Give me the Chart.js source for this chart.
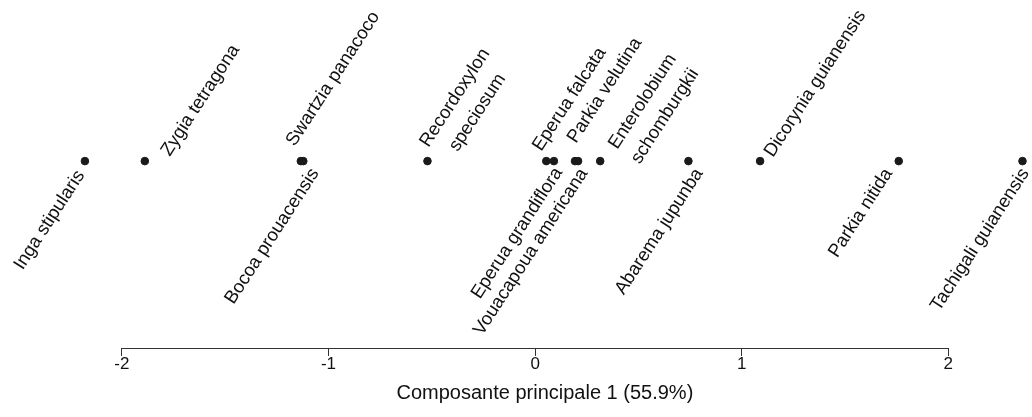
<!DOCTYPE html>
<html lang="fr">
<head>
    <meta charset="UTF-8">
    <title>Composante principale 1</title>
    <script src="https://cdn.jsdelivr.net/npm/chart.js"></script>
    <style>
        body {
            margin: 0;
            background-color: white;
        }
        .chart-box {
            position: relative;
            width: 1032px;
            height: 417px;
        }
    </style>
</head>
<body>
    <div class="chart-box">
        <canvas id="pcaChart"></canvas>
    </div>

    <script>
        // Species and their score on the first principal component
        const species = [
            'Inga stipularis', 'Zygia tetragona', 'Swartzia panacoco', 'Bocoa prouacensis',
            'Recordoxylon\nspeciosum', 'Eperua falcata', 'Eperua grandiflora', 'Parkia velutina',
            'Vouacapoua americana', 'Enterolobium\nschomburgkii', 'Abarema jupunba',
            'Dicorynia guianensis', 'Parkia nitida', 'Tachigali guianensis'
        ];
        const pc1Scores = [
            -2.179, -1.889, -1.134, -1.122,
            -0.521, 0.054, 0.091, 0.193,
            0.208, 0.315, 0.742,
            1.089, 1.760, 2.359
        ];
        const tickValues = [-2, -1, 0, 1, 2];
        const axisTitle = 'Composante principale 1 (55.9%)';

        // Where each label sits relative to its point (pixels)
        const labelPlacement = [
            { side: 'below', dx: 0, dy: 14 },
            { side: 'above', dx: 25, dy: -4 },
            { side: 'above', dx: -6, dy: -14 },
            { side: 'below', dx: 16, dy: 12 },
            { side: 'above', dx: 1, dy: -13 },
            { side: 'above', dx: -5, dy: -9 },
            { side: 'below', dx: 9, dy: 11 },
            { side: 'above', dx: 1, dy: -17 },
            { side: 'below', dx: 10, dy: 12 },
            { side: 'above', dx: 17, dy: -11 },
            { side: 'below', dx: 15, dy: 12 },
            { side: 'above', dx: 13, dy: -3 },
            { side: 'below', dx: -6, dy: 12 },
            { side: 'below', dx: 7, dy: 12 }
        ];

        const fontFamily = "'Liberation Sans', Arial, Helvetica, sans-serif";
        const labelAngle = 57 * Math.PI / 180;
        const labelSize = 18.5;
        const labelLineGap = 1.45;

        const points = pc1Scores.map(v => ({ x: v, y: 0 }));

        // axis line only between the first and last tick, like base R
        const axisLinePlugin = {
            id: 'axisLine',
            afterDraw(chart) {
                const xs = chart.scales.x;
                const ctx = chart.ctx;
                const y = chart.chartArea.bottom;
                ctx.save();
                ctx.strokeStyle = '#333';
                ctx.lineWidth = 1;
                ctx.beginPath();
                ctx.moveTo(xs.getPixelForValue(tickValues[0]), y + 0.5);
                ctx.lineTo(xs.getPixelForValue(tickValues[tickValues.length - 1]), y + 0.5);
                ctx.stroke();

                // axis title, centred on the plot region rather than the canvas
                ctx.fillStyle = '#111';
                ctx.font = '20px ' + fontFamily;
                ctx.textAlign = 'center';
                ctx.textBaseline = 'middle';
                ctx.fillText(axisTitle, chart.width * 0.528, 393);
                ctx.restore();
            }
        };

        const speciesLabelPlugin = {
            id: 'speciesLabels',
            afterDatasetsDraw(chart) {
                const ctx = chart.ctx;
                const meta = chart.getDatasetMeta(0);
                ctx.save();
                ctx.fillStyle = '#111';
                ctx.font = labelSize + 'px ' + fontFamily;
                ctx.textBaseline = 'alphabetic';
                meta.data.forEach((pt, i) => {
                    const place = labelPlacement[i];
                    const lines = species[i].split('\n');
                    const firstWidth = ctx.measureText(lines[0]).width;
                    ctx.save();
                    ctx.translate(pt.x + place.dx, pt.y + place.dy);
                    ctx.rotate(-labelAngle);
                    ctx.textAlign = place.side === 'above' ? 'left' : 'right';
                    lines.forEach((line, j) => {
                        // extra lines are centred under the first one
                        const shift = (firstWidth - ctx.measureText(line).width) / 2;
                        ctx.fillText(line, j ? shift : 0, j * labelSize * labelLineGap);
                    });
                    ctx.restore();
                });
                ctx.restore();
            }
        };

        const ctx = document.getElementById('pcaChart').getContext('2d');
        new Chart(ctx, {
            type: 'scatter',
            data: {
                datasets: [{
                    data: points,
                    backgroundColor: '#1a1a1a',
                    borderColor: '#1a1a1a',
                    pointRadius: 3.8,
                    pointHoverRadius: 3.8
                }]
            },
            options: {
                responsive: true,
                maintainAspectRatio: false,
                animation: false,
                layout: { padding: 0, autoPadding: false },
                plugins: {
                    legend: { display: false },
                    tooltip: { enabled: false }
                },
                scales: {
                    x: {
                        type: 'linear',
                        min: -2.59,
                        max: 2.405,
                        afterBuildTicks: scale => {
                            scale.ticks = tickValues.map(v => ({ value: v }));
                        },
                        afterFit: scale => {
                            scale.height = 69;
                        },
                        grid: {
                            drawOnChartArea: false,
                            drawTicks: true,
                            tickLength: 8,
                            color: '#333',
                            lineWidth: 1
                        },
                        border: { display: false },
                        ticks: {
                            color: '#111',
                            padding: -2,
                            maxRotation: 0,
                            autoSkip: false,
                            font: { family: fontFamily, size: 17 }
                        }
                    },
                    y: {
                        display: false,
                        min: -1.16,
                        max: 1
                    }
                }
            },
            plugins: [axisLinePlugin, speciesLabelPlugin]
        });
    </script>
</body>
</html>
